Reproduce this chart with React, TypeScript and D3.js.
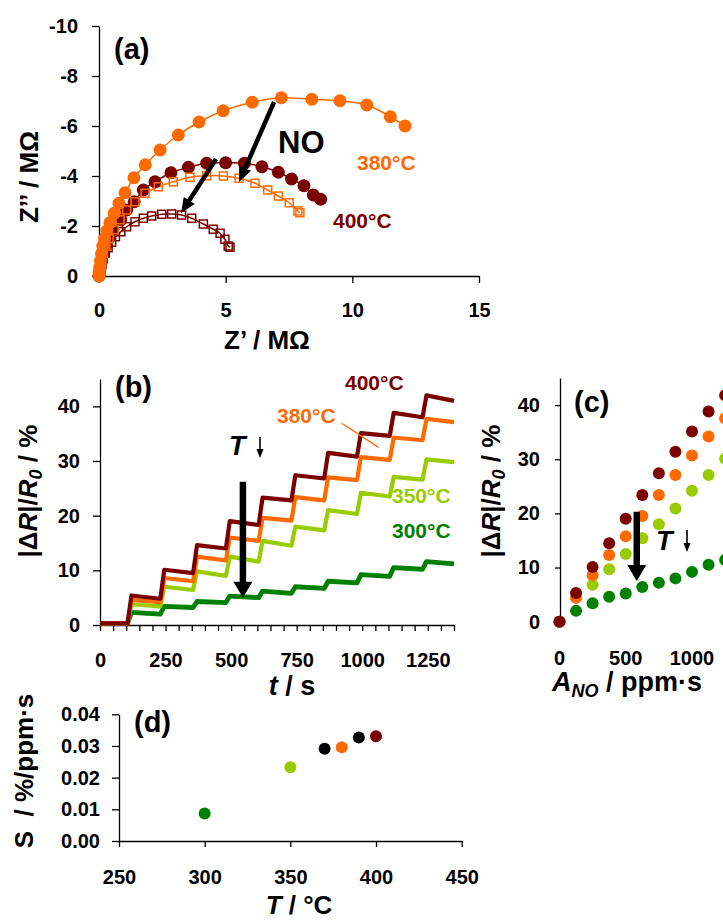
import { useEffect, useRef } from 'react';
import * as d3 from 'd3';

const W = 723;
const H = 922;
const FONT = '"Liberation Sans", Arial, Helvetica, sans-serif';

const C400 = '#7b0000';
const C380 = '#ff6a00';
const C350 = '#99cc00';
const C300 = '#008000';

// ---- (a) impedance spectra, Z' and Z'' in MOhm ----
const a380Re = [0, 0.01, 0.03, 0.06, 0.1, 0.15, 0.22, 0.31, 0.43, 0.6, 0.79, 1.03, 1.38, 1.83, 2.41, 3.13, 3.95, 4.9, 6.05, 7.2, 8.4, 9.51, 10.57, 11.5, 12.08];
const a380Im = [0, -0.15, -0.35, -0.6, -0.9, -1.2, -1.5, -1.8, -2.13, -2.51, -2.91, -3.33, -3.93, -4.45, -5.04, -5.64, -6.16, -6.61, -6.95, -7.13, -7.07, -7.01, -6.84, -6.37, -6.0];
const a400Re = [0, 0.02, 0.05, 0.1, 0.17, 0.26, 0.38, 0.55, 0.86, 1.09, 1.39, 1.75, 2.21, 2.84, 3.53, 4.25, 5.0, 5.74, 6.43, 7.08, 7.6, 8.09, 8.46, 8.75];
const a400Im = [0, -0.15, -0.35, -0.6, -0.9, -1.2, -1.5, -1.85, -2.24, -2.64, -2.97, -3.44, -3.77, -4.13, -4.35, -4.51, -4.53, -4.51, -4.37, -4.15, -3.88, -3.61, -3.24, -3.07];
const a380NoRe = [0, 0.02, 0.05, 0.1, 0.17, 0.27, 0.4, 0.6, 0.83, 1.09, 1.42, 1.82, 2.34, 2.93, 3.59, 4.25, 4.91, 5.53, 6.16, 6.66, 7.08, 7.51, 7.85, 7.93];
const a380NoIm = [0, -0.15, -0.35, -0.6, -0.9, -1.2, -1.5, -1.85, -2.25, -2.64, -2.97, -3.31, -3.57, -3.77, -3.95, -4.01, -4.0, -3.91, -3.71, -3.44, -3.2, -2.93, -2.6, -2.53];
const a400NoRe = [0, 0.02, 0.05, 0.1, 0.16, 0.25, 0.36, 0.5, 0.65, 0.86, 1.09, 1.42, 1.75, 2.08, 2.48, 2.87, 3.26, 3.66, 4.12, 4.51, 4.78, 4.97, 5.1, 5.17];
const a400NoIm = [0, -0.12, -0.28, -0.48, -0.7, -0.92, -1.13, -1.35, -1.57, -1.77, -1.97, -2.17, -2.31, -2.4, -2.47, -2.48, -2.44, -2.31, -2.08, -1.87, -1.71, -1.47, -1.2, -1.15];

// ---- (b) response transients ----
const stepTimes = [105, 230, 355, 480, 605, 730, 855, 980, 1105, 1230];
const tEnd = 1350;
const baseLevel = 0.3;
const b400Top = [5.4, 10.1, 14.6, 19.0, 23.3, 27.4, 31.5, 35.1, 38.8, 42.0];
const b400End = [4.8, 9.5, 14.0, 18.3, 22.8, 26.8, 30.8, 34.6, 38.0, 41.0];
const b380Top = [4.6, 8.6, 12.5, 16.0, 19.6, 23.4, 27.0, 30.7, 34.3, 37.7];
const b380End = [4.2, 8.0, 11.8, 15.4, 19.1, 22.8, 26.5, 30.2, 33.8, 37.1];
const b350Top = [3.8, 7.0, 9.8, 12.5, 15.4, 18.0, 21.0, 24.2, 27.1, 30.3];
const b350End = [3.4, 6.4, 9.0, 11.6, 14.5, 17.3, 20.3, 23.5, 26.6, 29.8];
const b300Top = [2.3, 3.4, 4.3, 5.3, 6.2, 7.0, 8.0, 9.2, 10.5, 11.6];
const b300End = [2.0, 3.2, 4.1, 5.0, 5.8, 6.7, 7.7, 8.9, 10.2, 11.2];

// ---- (c) response vs NO exposure ----
const exposure = [0, 125, 250, 375, 500, 625, 750, 875, 1000, 1125, 1250];
const c400 = [0, 5.3, 10.1, 14.5, 19.0, 23.4, 27.4, 31.4, 35.1, 38.8, 41.8];
const c380 = [0, 4.4, 8.6, 12.3, 15.8, 19.5, 23.4, 27.1, 30.7, 34.2, 37.5];
const c350 = [0, 4.5, 6.8, 9.7, 12.5, 15.4, 18.0, 20.9, 24.2, 27.1, 30.1];
const c300 = [0, 2.0, 3.4, 4.6, 5.2, 6.4, 7.2, 8.0, 9.2, 10.5, 11.4];

// ---- (d) sensitivity vs temperature ----
const dTemps = [300, 350, 370, 380, 390, 400];
const dSens = [0.0087, 0.0233, 0.0291, 0.0296, 0.0327, 0.0331];

const tempColor = (t: number) =>
  t === 400 ? C400 : t === 380 ? C380 : t === 350 ? C350 : t === 300 ? C300 : '#000';

const arrowPath = (x1: number, y1: number, x2: number, y2: number, sw: number, hw: number, hl: number) => {
  const dx = x2 - x1, dy = y2 - y1;
  const len = Math.hypot(dx, dy);
  const ux = dx / len, uy = dy / len;
  const px = -uy, py = ux;
  const bx = x2 - ux * hl, by = y2 - uy * hl;
  const p = (x: number, y: number) => `${x},${y}`;
  return 'M' + [
    p(x1 + px * sw / 2, y1 + py * sw / 2),
    p(bx + px * sw / 2, by + py * sw / 2),
    p(bx + px * hw / 2, by + py * hw / 2),
    p(x2, y2),
    p(bx - px * hw / 2, by - py * hw / 2),
    p(bx - px * sw / 2, by - py * sw / 2),
    p(x1 - px * sw / 2, y1 - py * sw / 2),
  ].join('L') + 'Z';
};

const TICK_FONT = 20;

const App = () => {
  const svgRef = useRef<SVGSVGElement>(null);

  useEffect(() => {
    const svg = d3.select(svgRef.current);
    svg.selectAll('*').remove();
    svg.style('font-family', FONT);

    const styleAxis = (g: any) => {
      g.attr('font-family', FONT).attr('font-size', TICK_FONT).attr('font-weight', 'bold');
      g.selectAll('path').attr('stroke', '#000').attr('stroke-width', 1.3);
      g.selectAll('line').attr('stroke', '#000').attr('stroke-width', 1.3);
      g.selectAll('text').attr('fill', '#000');
    };

    const label = (x: number, y: number, txt: string, color = '#000', size = 21, anchor = 'start') =>
      svg.append('text').attr('x', x).attr('y', y).attr('fill', color)
        .attr('font-size', size).attr('font-weight', 'bold').attr('text-anchor', anchor).text(txt);

    // ================= (a) =================
    const xA = d3.scaleLinear().domain([0, 15]).range([99, 479]);
    const yA = d3.scaleLinear().domain([0, -10]).range([276, 26]);

    svg.append('g').attr('transform', 'translate(99,0)')
      .call(d3.axisLeft(yA).tickValues([-10, -8, -6, -4, -2, 0]).tickFormat((d: any) => String(d)).tickSize(7).tickSizeOuter(0).tickPadding(14))
      .call(styleAxis);
    svg.append('g').attr('transform', 'translate(0,276)')
      .call(d3.axisBottom(xA).tickValues([0, 5, 10, 15]).tickFormat((d: any) => String(d)).tickSize(7).tickSizeOuter(0).tickPadding(20))
      .call(styleAxis);

    const lineA = d3.line<number[]>().x(d => xA(d[0])).y(d => yA(d[1])).curve(d3.curveCatmullRom);
    const seriesA = [
      { re: a400Re, im: a400Im, color: C400, shape: 'circle' },
      { re: a400NoRe, im: a400NoIm, color: C400, shape: 'square' },
      { re: a380NoRe, im: a380NoIm, color: C380, shape: 'square' },
      { re: a380Re, im: a380Im, color: C380, shape: 'circle' },
    ];
    seriesA.forEach(s => {
      const pts = s.re.map((r, i) => [r, s.im[i]]);
      svg.append('path').attr('d', lineA(pts)).attr('fill', 'none')
        .attr('stroke', s.color).attr('stroke-width', 1.5);
    });
    seriesA.forEach(s => {
      const pts = s.re.map((r, i) => [r, s.im[i]]);
      if (s.shape === 'circle') {
        svg.append('g').selectAll('circle').data(pts).enter().append('circle')
          .attr('cx', d => xA(d[0])).attr('cy', d => yA(d[1])).attr('r', 6.5).attr('fill', s.color);
      } else {
        svg.append('g').selectAll('rect').data(pts).enter().append('rect')
          .attr('x', d => xA(d[0]) - 4).attr('y', d => yA(d[1]) - 4)
          .attr('width', 8).attr('height', 8).attr('fill', 'none')
          .attr('stroke', s.color).attr('stroke-width', 1.5);
      }
    });

    svg.append('path').attr('d', arrowPath(xA(6.91), yA(-6.96), xA(5.53), yA(-3.76), 4.5, 13, 15)).attr('fill', '#000');
    svg.append('path').attr('d', arrowPath(xA(4.62), yA(-4.68), xA(3.24), yA(-2.52), 4.5, 13, 15)).attr('fill', '#000');

    label(114, 59, '(a)', '#000', 29);
    label(278, 153, 'NO', '#000', 31);
    label(357, 170, '380°C', C380, 21);
    label(333, 228, '400°C', C400, 21);

    svg.append('text').attr('transform', 'translate(38,177) rotate(-90)').attr('text-anchor', 'middle')
      .attr('font-size', 26).attr('font-weight', 'bold').text('Z’’ / MΩ');
    svg.append('text').attr('x', 267).attr('y', 349).attr('text-anchor', 'middle')
      .attr('font-size', 26).attr('font-weight', 'bold').text('Z’ / MΩ');

    // ================= (b) =================
    const xB = d3.scaleLinear().domain([0, 1350]).range([100, 454]);
    const yB = d3.scaleLinear().domain([0, 45]).range([625, 379]);

    svg.append('g').attr('transform', 'translate(100,0)')
      .call(d3.axisLeft(yB).tickValues([0, 10, 20, 30, 40]).tickFormat((d: any) => String(d)).tickSize(7).tickSizeOuter(0).tickPadding(13))
      .call(styleAxis);
    svg.append('g').attr('transform', 'translate(0,625)')
      .call(d3.axisBottom(xB).tickValues(d3.range(0, 1351, 50)).tickFormat((d: any) => (d % 250 === 0 ? String(d) : '')).tickSize(6).tickSizeOuter(0).tickPadding(22))
      .call(styleAxis);

    const riseDur = 15;
    const stepPts = (top: number[], end: number[]) => {
      const pts: number[][] = [[0, baseLevel], [stepTimes[0], baseLevel]];
      top.forEach((v, i) => {
        pts.push([stepTimes[i] + riseDur, v]);
        pts.push([i + 1 < stepTimes.length ? stepTimes[i + 1] : tEnd, end[i]]);
      });
      return pts;
    };
    const lineB = d3.line<number[]>().x(d => xB(d[0])).y(d => yB(d[1]));
    const seriesB = [
      { top: b300Top, end: b300End, color: C300, w: 4.8 },
      { top: b350Top, end: b350End, color: C350, w: 4.2 },
      { top: b380Top, end: b380End, color: C380, w: 4.2 },
      { top: b400Top, end: b400End, color: C400, w: 4.2 },
    ];
    seriesB.forEach(s => {
      svg.append('path').attr('d', lineB(stepPts(s.top, s.end))).attr('fill', 'none')
        .attr('stroke', s.color).attr('stroke-width', s.w).attr('stroke-linejoin', 'round');
    });

    label(115, 397, '(b)', '#000', 29);
    label(345, 390, '400°C', C400, 21);
    label(277, 423, '380°C', C380, 21);
    label(392, 503, '350°C', C350, 21);
    label(392, 538, '300°C', C300, 21);
    svg.append('line').attr('x1', xB(922)).attr('y1', yB(36.9)).attr('x2', xB(1062)).attr('y2', yB(32.5))
      .attr('stroke', C380).attr('stroke-width', 1.3);

    svg.append('text').attr('x', 229).attr('y', 455).attr('font-size', 27).attr('font-weight', 'bold')
      .attr('font-style', 'italic').text('T');
    svg.append('path').attr('d', arrowPath(260, 437, 260, 458, 1.6, 7, 9)).attr('fill', '#000');
    svg.append('path').attr('d', arrowPath(xB(545), yB(26.2), xB(545), yB(5.0), 6.5, 19, 16)).attr('fill', '#000');

    const yLabB = svg.append('text').attr('transform', 'translate(37,491) rotate(-90)').attr('text-anchor', 'middle')
      .attr('font-size', 26).attr('font-weight', 'bold');
    yLabB.append('tspan').text('|Δ');
    yLabB.append('tspan').attr('font-style', 'italic').text('R');
    yLabB.append('tspan').text('|/');
    yLabB.append('tspan').attr('font-style', 'italic').text('R');
    yLabB.append('tspan').attr('font-style', 'italic').attr('font-size', 18).attr('dy', 5).text('0');
    yLabB.append('tspan').attr('dy', -5).text(' / %');

    const xLabB = svg.append('text').attr('x', 292).attr('y', 695).attr('text-anchor', 'middle')
      .attr('font-size', 27).attr('font-weight', 'bold');
    xLabB.append('tspan').attr('font-style', 'italic').text('t');
    xLabB.append('tspan').text(' / s');

    // ================= (c) =================
    const xC = d3.scaleLinear().domain([0, 1000]).range([559.5, 692]);
    const yC = d3.scaleLinear().domain([0, 45]).range([621.7, 378]);

    svg.append('g').attr('transform', 'translate(560,0)')
      .call(d3.axisLeft(yC).tickValues([0, 10, 20, 30, 40]).tickFormat((d: any) => String(d)).tickSize(5).tickSizeOuter(0).tickPadding(15))
      .call(styleAxis);
    svg.append('g').selectAll('text').data([0, 500, 1000]).enter().append('text')
      .attr('x', d => xC(d)).attr('y', 665).attr('text-anchor', 'middle')
      .attr('font-size', TICK_FONT).attr('font-weight', 'bold').text(d => String(d));

    const seriesC = [
      { v: c300, color: C300 },
      { v: c350, color: C350 },
      { v: c380, color: C380 },
      { v: c400, color: C400 },
    ];
    seriesC.forEach(s => {
      svg.append('g').selectAll('circle').data(s.v).enter().append('circle')
        .attr('cx', (d, i) => xC(exposure[i])).attr('cy', d => yC(d)).attr('r', 6).attr('fill', s.color);
    });

    label(574, 412, '(c)', '#000', 29);
    svg.append('path').attr('d', arrowPath(xC(583), yC(20.3), xC(583), yC(7.5), 6.5, 19, 16)).attr('fill', '#000');
    svg.append('text').attr('x', 656).attr('y', 550).attr('font-size', 27).attr('font-weight', 'bold')
      .attr('font-style', 'italic').text('T');
    svg.append('path').attr('d', arrowPath(687, 530, 687, 552, 1.6, 7, 9)).attr('fill', '#000');

    const yLabC = svg.append('text').attr('transform', 'translate(500,491) rotate(-90)').attr('text-anchor', 'middle')
      .attr('font-size', 26).attr('font-weight', 'bold');
    yLabC.append('tspan').text('|Δ');
    yLabC.append('tspan').attr('font-style', 'italic').text('R');
    yLabC.append('tspan').text('|/');
    yLabC.append('tspan').attr('font-style', 'italic').text('R');
    yLabC.append('tspan').attr('font-style', 'italic').attr('font-size', 18).attr('dy', 5).text('0');
    yLabC.append('tspan').attr('dy', -5).text(' / %');

    const xLabC = svg.append('text').attr('x', 552).attr('y', 691).attr('font-size', 27).attr('font-weight', 'bold');
    xLabC.append('tspan').attr('font-style', 'italic').text('A');
    xLabC.append('tspan').attr('font-style', 'italic').attr('font-size', 18).attr('dy', 6).text('NO');
    xLabC.append('tspan').attr('dy', -6).text(' / ppm·s');

    // ================= (d) =================
    const xD = d3.scaleLinear().domain([250, 450]).range([119, 461.7]);
    const yD = d3.scaleLinear().domain([0, 0.04]).range([841, 714.3]);

    svg.append('g').attr('transform', 'translate(119,0)')
      .call(d3.axisLeft(yD).tickValues([0, 0.01, 0.02, 0.03, 0.04]).tickFormat(d3.format('.2f') as any).tickSize(7).tickSizeOuter(0).tickPadding(12))
      .call(styleAxis);
    svg.append('g').attr('transform', 'translate(0,841)')
      .call(d3.axisBottom(xD).tickValues([250, 300, 350, 400, 450]).tickFormat((d: any) => String(d)).tickSize(6).tickSizeOuter(0).tickPadding(23))
      .call(styleAxis);

    svg.append('g').selectAll('circle').data(dTemps).enter().append('circle')
      .attr('cx', d => xD(d)).attr('cy', (d, i) => yD(dSens[i])).attr('r', 6).attr('fill', d => tempColor(d));

    label(134, 732, '(d)', '#000', 29);

    svg.append('text').attr('transform', 'translate(33,771) rotate(-90)').attr('text-anchor', 'middle')
      .attr('font-size', 26).attr('font-weight', 'bold').style('white-space', 'pre')
      .text('S  / %/ppm·s');

    const xLabD = svg.append('text').attr('x', 299).attr('y', 914).attr('text-anchor', 'middle')
      .attr('font-size', 26).attr('font-weight', 'bold');
    xLabD.append('tspan').attr('font-style', 'italic').text('T');
    xLabD.append('tspan').text(' / °C');
  }, []);

  return (
    <svg
      ref={svgRef}
      width={W}
      height={H}
      style={{ position: 'absolute', left: 0, top: 0, background: '#fff' }}
    />
  );
};

export default App;
